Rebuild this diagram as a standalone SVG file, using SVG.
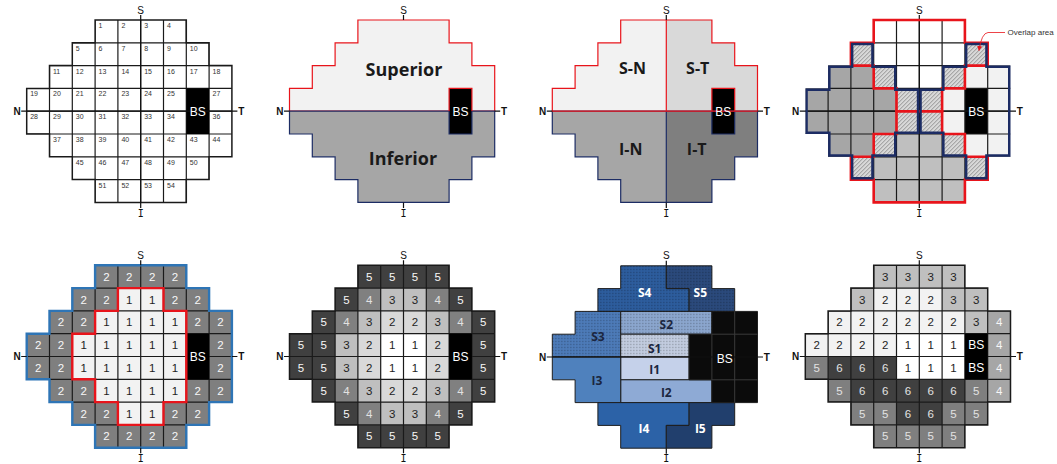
<svg xmlns="http://www.w3.org/2000/svg" width="1057" height="464" viewBox="0 0 1057 464">
<style>
.lbl{font-family:"Liberation Sans",Arial,sans-serif;font-size:10px;fill:#111}
.lb{font-weight:bold}
.lm{font-family:"DejaVu Sans Mono","Liberation Mono",monospace;font-size:10px;fill:#111}
.ax{stroke:#111;stroke-width:1.2;fill:none}
.gl{stroke:#1a1a1a;stroke-width:1.2;fill:none}
.ol{stroke:#1a1a1a;stroke-width:1.5;fill:none}
.n7{font-family:"Liberation Sans",Arial,sans-serif;font-size:7px;fill:#333}
.num{font-family:"Liberation Sans",Arial,sans-serif;font-size:11.5px;text-anchor:middle}
.bs{font-family:"Liberation Sans",Arial,sans-serif;font-size:12px;fill:#fff;text-anchor:middle}
.big{font-family:"Open Sans","Noto Sans",sans-serif;font-weight:bold;fill:#1a1a1a;text-anchor:middle}
.w{fill:#f7f7f7}.g{fill:#e2e2e2}.d{fill:#1e1e1e}
.red{stroke:#e8141b;fill:none}
.navy{stroke:#1c2c64;fill:none}
.reg{stroke:#1e1e1e;stroke-width:1}
</style>
<defs>
<path id="shape" d="M68.4,0H159.6V22.8H182.4V45.6H205.2V136.8H182.4V159.6H159.6V182.4H68.4V159.6H45.6V136.8H22.8V114H0V68.4H22.8V45.6H45.6V22.8H68.4Z"/>
<clipPath id="clipShape"><path d="M68.4,0H159.6V22.8H182.4V45.6H205.2V136.8H182.4V159.6H159.6V182.4H68.4V159.6H45.6V136.8H22.8V114H0V68.4H22.8V45.6H45.6V22.8H68.4Z"/></clipPath>
<path id="grid" d="M22.8,0V182.4M45.6,0V182.4M68.4,0V182.4M91.2,0V182.4M114,0V182.4M136.8,0V182.4M159.6,0V182.4M182.4,0V182.4M0,22.8H205.2M0,45.6H205.2M0,68.4H205.2M0,91.2H205.2M0,114H205.2M0,136.8H205.2M0,159.6H205.2"/>
<clipPath id="clipNasal"><path d="M45.6,22.8H68.4V45.6H91.2V68.4H114V114H91.2V136.8H68.4V159.6H45.6V136.8H22.8V114H0V68.4H22.8V45.6H45.6Z"/></clipPath>
<clipPath id="clipTemp"><path d="M159.6,22.8H182.4V45.6H205.2V136.8H182.4V159.6H159.6V136.8H136.8V114H114V68.4H136.8V45.6H159.6Z"/></clipPath>
<pattern id="hatch" width="4" height="4" patternUnits="userSpaceOnUse"><rect width="4" height="4" fill="#d8d8d8"/><path d="M-1,1L1,-1M0,4L4,0M3,5L5,3" stroke="#8a8a8a" stroke-width="0.9"/></pattern>
<pattern id="dots" width="3" height="3" patternUnits="userSpaceOnUse"><rect width="1.2" height="1.2" fill="#000" fill-opacity="0.3"/></pattern>
<marker id="arr" viewBox="0 0 10 10" refX="9" refY="5" markerWidth="5" markerHeight="5" markerUnits="userSpaceOnUse" orient="auto"><path d="M0,0L10,5L0,10Z" fill="#e8141b"/></marker>
</defs>

<!-- Panel 1: numbered grid -->
<g id="p1" transform="translate(26.7,20)">
<use href="#shape" fill="#fff"/>
<use href="#grid" class="gl" clip-path="url(#clipShape)"/>
<use href="#shape" class="ol"/>
<rect x="159.6" y="68.4" width="22.8" height="45.6" fill="#000"/>
<path class="ax" d="M114,-5V188M-5.5,91.2H210.7"/>
<text class="bs" x="171" y="95.5">BS</text>
<g class="n7">
<text x="71.9" y="8">1</text><text x="94.7" y="8">2</text><text x="117.5" y="8">3</text><text x="140.3" y="8">4</text>
<text x="49.1" y="30.8">5</text><text x="71.9" y="30.8">6</text><text x="94.7" y="30.8">7</text><text x="117.5" y="30.8">8</text><text x="140.3" y="30.8">9</text><text x="163.1" y="30.8">10</text>
<text x="26.3" y="53.6">11</text><text x="49.1" y="53.6">12</text><text x="71.9" y="53.6">13</text><text x="94.7" y="53.6">14</text><text x="117.5" y="53.6">15</text><text x="140.3" y="53.6">16</text><text x="163.1" y="53.6">17</text><text x="185.9" y="53.6">18</text>
<text x="3.5" y="76.4">19</text><text x="26.3" y="76.4">20</text><text x="49.1" y="76.4">21</text><text x="71.9" y="76.4">22</text><text x="94.7" y="76.4">23</text><text x="117.5" y="76.4">24</text><text x="140.3" y="76.4">25</text><text x="185.9" y="76.4">27</text>
<text x="3.5" y="99.2">28</text><text x="26.3" y="99.2">29</text><text x="49.1" y="99.2">30</text><text x="71.9" y="99.2">31</text><text x="94.7" y="99.2">32</text><text x="117.5" y="99.2">33</text><text x="140.3" y="99.2">34</text><text x="185.9" y="99.2">36</text>
<text x="26.3" y="122">37</text><text x="49.1" y="122">38</text><text x="71.9" y="122">39</text><text x="94.7" y="122">40</text><text x="117.5" y="122">41</text><text x="140.3" y="122">42</text><text x="163.1" y="122">43</text><text x="185.9" y="122">44</text>
<text x="49.1" y="144.8">45</text><text x="71.9" y="144.8">46</text><text x="94.7" y="144.8">47</text><text x="117.5" y="144.8">48</text><text x="140.3" y="144.8">49</text><text x="163.1" y="144.8">50</text>
<text x="71.9" y="167.6">51</text><text x="94.7" y="167.6">52</text><text x="117.5" y="167.6">53</text><text x="140.3" y="167.6">54</text>
</g>
<text class="lbl" x="114" y="-6.5" text-anchor="middle">S</text>
<text class="lm" x="114" y="196.5" text-anchor="middle">I</text>
<text class="lbl lb" x="-6" y="95" text-anchor="end">N</text>
<text class="lbl lb" x="211.5" y="95">T</text>
</g>

<!-- Panel 2: Superior / Inferior -->
<g id="p2" transform="translate(289.5,20)">
<path d="M68.4,0H159.6V22.8H182.4V45.6H205.2V91.2H0V68.4H22.8V45.6H45.6V22.8H68.4Z" fill="#f2f2f2" class="red" stroke-width="1.2" style="fill:#f2f2f2"/>
<path d="M0,91.2H205.2V136.8H182.4V159.6H159.6V182.4H68.4V159.6H45.6V136.8H22.8V114H0Z" class="navy" stroke-width="1.2" style="fill:#a6a6a6"/>
<rect x="159.6" y="68.4" width="22.8" height="45.6" fill="#000"/>
<path class="red" stroke-width="1.2" d="M159.6,91.2V68.4H182.4V91.2"/>
<path class="navy" stroke-width="1.2" d="M159.6,91.2V114H182.4V91.2"/>
<path class="ax" d="M114,-5V0M114,182.4V188M-5.5,91.2H0M205.2,91.2H210.7"/>
<text class="bs" x="171" y="95.5">BS</text>
<text class="big" x="114.5" y="56" font-size="18">Superior</text>
<text class="big" x="113.5" y="145" font-size="18">Inferior</text>
<text class="lbl" x="114" y="-6.5" text-anchor="middle">S</text>
<text class="lm" x="114" y="196.5" text-anchor="middle">I</text>
<text class="lbl lb" x="-6" y="95" text-anchor="end">N</text>
<text class="lbl lb" x="211.5" y="95">T</text>
</g>

<!-- Panel 3: quadrants -->
<g id="p3" transform="translate(552.3,20)">
<path d="M68.4,0H114V91.2H0V68.4H22.8V45.6H45.6V22.8H68.4Z" fill="#f2f2f2"/>
<path d="M114,0H159.6V22.8H182.4V45.6H205.2V91.2H114Z" fill="#d9d9d9"/>
<path d="M0,91.2H114V182.4H68.4V159.6H45.6V136.8H22.8V114H0Z" fill="#a6a6a6"/>
<path d="M114,91.2H205.2V136.8H182.4V159.6H159.6V182.4H114Z" fill="#7f7f7f"/>
<rect x="159.6" y="68.4" width="22.8" height="45.6" fill="#000"/>
<path class="navy" stroke-width="1.2" d="M0,91.2H205.2V136.8H182.4V159.6H159.6V182.4H68.4V159.6H45.6V136.8H22.8V114H0ZM114,91.2V182.4M159.6,91.2V114H182.4V91.2"/>
<path class="red" stroke-width="1.2" d="M68.4,0H159.6V22.8H182.4V45.6H205.2V91.2H0V68.4H22.8V45.6H45.6V22.8H68.4ZM114,0V91.2M159.6,91.2V68.4H182.4V91.2"/>
<path class="ax" d="M114,-5V0M114,182.4V188M-5.5,91.2H0M205.2,91.2H210.7"/>
<text class="bs" x="171" y="95.5">BS</text>
<text class="big" x="80.2" y="53.5" font-size="16">S-N</text>
<text class="big" x="145.4" y="53.5" font-size="16">S-T</text>
<text class="big" x="78.5" y="135" font-size="16">I-N</text>
<text class="big" x="144.4" y="135" font-size="16">I-T</text>
<text class="lbl" x="114" y="-6.5" text-anchor="middle">S</text>
<text class="lm" x="114" y="196.5" text-anchor="middle">I</text>
<text class="lbl lb" x="-6" y="95" text-anchor="end">N</text>
<text class="lbl lb" x="211.5" y="95">T</text>
</g>

<!-- Panel 4: overlap -->
<g id="p4" transform="translate(805.3,20)">
<use href="#shape" fill="#fff"/>
<path d="M22.8,45.6H68.4V68.4H91.2V114H68.4V136.8H22.8V114H0V68.4H22.8Z" fill="#a6a6a6"/>
<path d="M159.6,45.6H205.2V136.8H159.6V114H136.8V68.4H159.6Z" fill="#f2f2f2"/>
<path d="M91.2,114H136.8V136.8H159.6V182.4H68.4V136.8H91.2Z" fill="#bfbfbf"/>
<path fill="url(#hatch)" d="M45.6,22.8h22.8v22.8h-22.8zM159.6,22.8h22.8v22.8h-22.8zM68.4,45.6h22.8v22.8h-22.8zM136.8,45.6h22.8v22.8h-22.8zM91.2,68.4h45.6v45.6h-45.6zM68.4,114h22.8v22.8h-22.8zM136.8,114h22.8v22.8h-22.8zM45.6,136.8h22.8v22.8h-22.8zM159.6,136.8h22.8v22.8h-22.8z"/>
<rect x="159.6" y="68.4" width="22.8" height="45.6" fill="#000"/>
<use href="#grid" class="gl" clip-path="url(#clipShape)"/>
<path class="ax" d="M114,-5V188M-5.5,91.2H210.7"/>
<path class="red" stroke-width="2.6" d="M68.4,0H159.6V22.8H182.4V45.6H159.6V68.4H136.8V91.2H91.2V68.4H68.4V45.6H45.6V22.8H68.4Z"/>
<path class="red" stroke-width="2.6" d="M91.2,91.2H136.8V114H159.6V136.8H182.4V159.6H159.6V182.4H68.4V159.6H45.6V136.8H68.4V114H91.2Z"/>
<path class="navy" stroke-width="5" clip-path="url(#clipNasal)" d="M45.6,22.8H68.4V45.6H91.2V68.4H114V114H91.2V136.8H68.4V159.6H45.6V136.8H22.8V114H0V68.4H22.8V45.6H45.6Z"/>
<path class="navy" stroke-width="5" clip-path="url(#clipTemp)" d="M159.6,22.8H182.4V45.6H205.2V136.8H182.4V159.6H159.6V136.8H136.8V114H114V68.4H136.8V45.6H159.6Z"/>
<text class="bs" x="171" y="95.5">BS</text>
<text class="lbl" x="114" y="-6.5" text-anchor="middle">S</text>
<text class="lm" x="114" y="196.5" text-anchor="middle">I</text>
<text class="lbl lb" x="-6" y="95" text-anchor="end">N</text>
<text class="lbl lb" x="211.5" y="95">T</text>
</g>
<g id="connectors">
<path d="M1005,32.5H988Q981.5,33 979,50.5" fill="none" stroke="#e8141b" stroke-width="0.8" marker-end="url(#arr)"/>
</g>
<text id="overlap-label" x="1007.5" y="35.3" font-family="Liberation Sans, Arial, sans-serif" font-size="8" fill="#333">Overlap area</text>

<!-- Panel 5 -->
<g id="p5" transform="translate(26.7,265.3)">
<use href="#shape" fill="#7f7f7f"/>
<path d="M91.2,22.8H136.8V45.6H159.6V136.8H136.8V159.6H91.2V136.8H68.4V114H45.6V68.4H68.4V45.6H91.2Z" fill="#f2f2f2"/>
<use href="#grid" class="gl" clip-path="url(#clipShape)"/>
<rect x="159.6" y="68.4" width="22.8" height="45.6" fill="#000"/>
<use href="#shape" fill="none" stroke="#2e75b6" stroke-width="2.4"/>
<path class="red" stroke-width="2.4" d="M91.2,22.8H136.8V45.6H159.6V136.8H136.8V159.6H91.2V136.8H68.4V114H45.6V68.4H68.4V45.6H91.2Z"/>
<path class="ax" d="M114,-5V0M114,182.4V188M-5.5,91.2H0M205.2,91.2H210.7"/>
<text class="bs" x="171" y="95.5">BS</text>
<g class="num">
<g class="w">
<text x="79.8" y="15.6">2</text><text x="102.6" y="15.6">2</text><text x="125.4" y="15.6">2</text><text x="148.2" y="15.6">2</text>
<text x="57" y="38.4">2</text><text x="79.8" y="38.4">2</text><text x="148.2" y="38.4">2</text><text x="171" y="38.4">2</text>
<text x="34.2" y="61.2">2</text><text x="57" y="61.2">2</text><text x="171" y="61.2">2</text><text x="193.8" y="61.2">2</text>
<text x="11.4" y="84">2</text><text x="34.2" y="84">2</text><text x="193.8" y="84">2</text>
<text x="11.4" y="106.8">2</text><text x="34.2" y="106.8">2</text><text x="193.8" y="106.8">2</text>
<text x="34.2" y="129.6">2</text><text x="57" y="129.6">2</text><text x="171" y="129.6">2</text><text x="193.8" y="129.6">2</text>
<text x="57" y="152.4">2</text><text x="79.8" y="152.4">2</text><text x="148.2" y="152.4">2</text><text x="171" y="152.4">2</text>
<text x="79.8" y="175.2">2</text><text x="102.6" y="175.2">2</text><text x="125.4" y="175.2">2</text><text x="148.2" y="175.2">2</text>
</g>
<g class="d">
<text x="102.6" y="38.4">1</text><text x="125.4" y="38.4">1</text>
<text x="79.8" y="61.2">1</text><text x="102.6" y="61.2">1</text><text x="125.4" y="61.2">1</text><text x="148.2" y="61.2">1</text>
<text x="57" y="84">1</text><text x="79.8" y="84">1</text><text x="102.6" y="84">1</text><text x="125.4" y="84">1</text><text x="148.2" y="84">1</text>
<text x="57" y="106.8">1</text><text x="79.8" y="106.8">1</text><text x="102.6" y="106.8">1</text><text x="125.4" y="106.8">1</text><text x="148.2" y="106.8">1</text>
<text x="79.8" y="129.6">1</text><text x="102.6" y="129.6">1</text><text x="125.4" y="129.6">1</text><text x="148.2" y="129.6">1</text>
<text x="102.6" y="152.4">1</text><text x="125.4" y="152.4">1</text>
</g>
</g>
<text class="lbl" x="114" y="-6.5" text-anchor="middle">S</text>
<text class="lm" x="114" y="196.5" text-anchor="middle">I</text>
<text class="lbl lb" x="-6" y="95" text-anchor="end">N</text>
<text class="lbl lb" x="211.5" y="95">T</text>
</g>

<!-- Panel 6 -->
<g id="p6" transform="translate(289.5,265.3)">
<use href="#shape" fill="#404040"/>
<path fill="#808080" d="M68.4,22.8h22.8v22.8h-22.8zM136.8,22.8h22.8v22.8h-22.8zM45.6,45.6h22.8v22.8h-22.8zM159.6,45.6h22.8v22.8h-22.8zM45.6,114h22.8v22.8h-22.8zM159.6,114h22.8v22.8h-22.8zM68.4,136.8h22.8v22.8h-22.8zM136.8,136.8h22.8v22.8h-22.8z"/>
<path fill="#bfbfbf" d="M91.2,22.8h45.6v22.8h-45.6zM68.4,45.6h22.8v22.8h-22.8zM136.8,45.6h22.8v22.8h-22.8zM45.6,68.4h22.8v45.6h-22.8zM68.4,114h22.8v22.8h-22.8zM136.8,114h22.8v22.8h-22.8zM91.2,136.8h45.6v22.8h-45.6z"/>
<path fill="#d9d9d9" d="M91.2,45.6h45.6v22.8h-45.6zM68.4,68.4h22.8v45.6h-22.8zM136.8,68.4h22.8v45.6h-22.8zM91.2,114h45.6v22.8h-45.6z"/>
<path fill="#ffffff" d="M91.2,68.4h45.6v45.6h-45.6z"/>
<use href="#grid" class="gl" clip-path="url(#clipShape)"/>
<rect x="159.6" y="68.4" width="22.8" height="45.6" fill="#000"/>
<use href="#shape" class="ol"/>
<path class="ax" d="M114,-5V0M114,182.4V188M-5.5,91.2H0M205.2,91.2H210.7"/>
<text class="bs" x="171" y="95.5">BS</text>
<g class="num">
<g class="w">
<text x="79.8" y="15.6">5</text><text x="102.6" y="15.6">5</text><text x="125.4" y="15.6">5</text><text x="148.2" y="15.6">5</text>
<text x="57" y="38.4">5</text><text x="171" y="38.4">5</text>
<text x="34.2" y="61.2">5</text><text x="193.8" y="61.2">5</text>
<text x="11.4" y="84">5</text><text x="34.2" y="84">5</text><text x="193.8" y="84">5</text>
<text x="11.4" y="106.8">5</text><text x="34.2" y="106.8">5</text><text x="193.8" y="106.8">5</text>
<text x="34.2" y="129.6">5</text><text x="193.8" y="129.6">5</text>
<text x="57" y="152.4">5</text><text x="171" y="152.4">5</text>
<text x="79.8" y="175.2">5</text><text x="102.6" y="175.2">5</text><text x="125.4" y="175.2">5</text><text x="148.2" y="175.2">5</text>
</g>
<g class="g">
<text x="79.8" y="38.4">4</text><text x="148.2" y="38.4">4</text>
<text x="57" y="61.2">4</text><text x="171" y="61.2">4</text>
<text x="57" y="129.6">4</text><text x="171" y="129.6">4</text>
<text x="79.8" y="152.4">4</text><text x="148.2" y="152.4">4</text>
</g>
<g class="d">
<text x="102.6" y="38.4">3</text><text x="125.4" y="38.4">3</text>
<text x="79.8" y="61.2">3</text><text x="102.6" y="61.2">2</text><text x="125.4" y="61.2">2</text><text x="148.2" y="61.2">3</text>
<text x="57" y="84">3</text><text x="79.8" y="84">2</text><text x="102.6" y="84">1</text><text x="125.4" y="84">1</text><text x="148.2" y="84">2</text>
<text x="57" y="106.8">3</text><text x="79.8" y="106.8">2</text><text x="102.6" y="106.8">1</text><text x="125.4" y="106.8">1</text><text x="148.2" y="106.8">2</text>
<text x="79.8" y="129.6">3</text><text x="102.6" y="129.6">2</text><text x="125.4" y="129.6">2</text><text x="148.2" y="129.6">3</text>
<text x="102.6" y="152.4">3</text><text x="125.4" y="152.4">3</text>
</g>
</g>
<text class="lbl" x="114" y="-6.5" text-anchor="middle">S</text>
<text class="lm" x="114" y="196.5" text-anchor="middle">I</text>
<text class="lbl lb" x="-6" y="95" text-anchor="end">N</text>
<text class="lbl lb" x="211.5" y="95">T</text>
</g>

<!-- Panel 7: regions -->
<g id="p7" transform="translate(552.3,265.8)">
<g class="reg">
<path id="S4" d="M68.4,0H114V22.8H136.8V45.6H45.6V22.8H68.4Z" fill="#2d5d9e"/>
<path id="S5" d="M114,0H159.6V22.8H182.4V45.6H136.8V22.8H114Z" fill="#2b4a7c"/>
<path id="S3" d="M22.8,45.6H68.4V91.2H0V68.4H22.8Z" fill="#4d7bb9"/>
<path id="S2" d="M68.4,45.6H159.6V68.4H68.4Z" fill="#8ca7cf"/>
<path id="S1" d="M68.4,68.4H136.8V91.2H68.4Z" fill="#c3cde0"/>
<path id="I1" d="M68.4,91.2H136.8V114H68.4Z" fill="#c5d1ea"/>
<path id="I2" d="M68.4,114H159.6V136.8H68.4Z" fill="#8eaad5"/>
<path id="I3" d="M0,91.2H68.4V136.8H22.8V114H0Z" fill="#4f81bd"/>
<path id="I4" d="M45.6,136.8H136.8V159.6H114V182.4H68.4V159.6H45.6Z" fill="#2c62a7"/>
<path id="I5" d="M136.8,136.8H182.4V159.6H159.6V182.4H114V159.6H136.8Z" fill="#213f6d"/>
<path id="BSR" d="M159.6,45.6H205.2V136.8H159.6V114H136.8V68.4H159.6Z" fill="#0b0b0b"/>
</g>
<path fill="url(#dots)" d="M68.4,0H114V22.8H136.8V45.6H45.6V22.8H68.4ZM114,0H159.6V22.8H182.4V45.6H136.8V22.8H114ZM22.8,45.6H68.4V91.2H0V68.4H22.8ZM68.4,45.6H159.6V68.4H68.4ZM68.4,68.4H136.8V91.2H68.4Z"/>
<path stroke="#3a3a3a" stroke-width="1" fill="none" d="M159.6,68.4V114M182.4,45.6V136.8M159.6,68.4H205.2M159.6,114H205.2"/>
<path class="ax" d="M114,-5V0M114,182.4V188M-5.5,91.2H210.7"/>
<g font-family="Open Sans, Noto Sans, sans-serif" font-weight="bold" font-size="12" text-anchor="middle">
<text x="92.4" y="31" fill="#fff">S4</text>
<text x="148" y="31" fill="#fff">S5</text>
<text x="45.7" y="75" fill="#1b2640">S3</text>
<text x="114" y="63.7" fill="#1b2640">S2</text>
<text x="102.4" y="87" fill="#1b2640">S1</text>
<text x="102.4" y="108.3" fill="#1b2640">I1</text>
<text x="44.7" y="119.3" fill="#1b2640">I3</text>
<text x="114" y="131" fill="#1b2640">I2</text>
<text x="91.7" y="167.7" fill="#fff">I4</text>
<text x="148" y="167.7" fill="#fff">I5</text>
</g>
<text class="bs" x="172.4" y="97.5" font-size="12.5">BS</text>
<text class="lbl" x="114" y="-6.5" text-anchor="middle">S</text>
<text class="lm" x="114" y="196.5" text-anchor="middle">I</text>
<text class="lbl lb" x="-6" y="95" text-anchor="end">N</text>
<text class="lbl lb" x="211.5" y="95">T</text>
</g>

<!-- Panel 8 -->
<g id="p8" transform="translate(805.3,265.3)">
<use href="#shape" fill="#7f7f7f"/>
<path fill="#bfbfbf" d="M68.4,0h91.2v22.8h-91.2zM45.6,22.8h22.8v22.8h-22.8zM136.8,22.8h45.6v22.8h-45.6zM159.6,45.6h22.8v22.8h-22.8z"/>
<path fill="#f2f2f2" d="M68.4,22.8h68.4v22.8h-68.4zM22.8,45.6h136.8v22.8h-136.8zM0,68.4h91.2v22.8h-91.2z"/>
<path fill="#ffffff" d="M91.2,68.4h68.4v45.6h-68.4z"/>
<path fill="#a6a6a6" d="M182.4,45.6h22.8v91.2h-22.8z"/>
<path fill="#404040" d="M22.8,91.2h68.4v22.8h-68.4zM45.6,114h114v22.8h-114zM91.2,136.8h45.6v22.8h-45.6z"/>
<use href="#grid" class="gl" clip-path="url(#clipShape)"/>
<rect x="159.6" y="68.4" width="22.8" height="45.6" fill="#000"/>
<use href="#shape" class="ol"/>
<path class="ax" d="M114,-5V0M114,182.4V188M-5.5,91.2H0M205.2,91.2H210.7"/>
<text class="bs" x="171" y="84" font-size="11.5">BS</text>
<text class="bs" x="171" y="106.8" font-size="11.5">BS</text>
<g class="num" font-size="11">
<g class="d">
<text x="79.8" y="15.6">3</text><text x="102.6" y="15.6">3</text><text x="125.4" y="15.6">3</text><text x="148.2" y="15.6">3</text>
<text x="57" y="38.4">3</text><text x="79.8" y="38.4">2</text><text x="102.6" y="38.4">2</text><text x="125.4" y="38.4">2</text><text x="148.2" y="38.4">3</text><text x="171" y="38.4">3</text>
<text x="34.2" y="61.2">2</text><text x="57" y="61.2">2</text><text x="79.8" y="61.2">2</text><text x="102.6" y="61.2">2</text><text x="125.4" y="61.2">2</text><text x="148.2" y="61.2">2</text><text x="171" y="61.2">3</text>
<text x="11.4" y="84">2</text><text x="34.2" y="84">2</text><text x="57" y="84">2</text><text x="79.8" y="84">2</text><text x="102.6" y="84">1</text><text x="125.4" y="84">1</text><text x="148.2" y="84">1</text>
<text x="102.6" y="106.8">1</text><text x="125.4" y="106.8">1</text><text x="148.2" y="106.8">1</text>
</g>
<g class="w">
<text x="193.8" y="61.2">4</text><text x="193.8" y="84">4</text><text x="193.8" y="106.8">4</text><text x="193.8" y="129.6">4</text>
</g>
<g class="g">
<text x="11.4" y="106.8">5</text><text x="34.2" y="106.8">6</text><text x="57" y="106.8">6</text><text x="79.8" y="106.8">6</text>
<text x="34.2" y="129.6">5</text><text x="57" y="129.6">6</text><text x="79.8" y="129.6">6</text><text x="102.6" y="129.6">6</text><text x="125.4" y="129.6">6</text><text x="148.2" y="129.6">6</text><text x="171" y="129.6">5</text>
<text x="57" y="152.4">5</text><text x="79.8" y="152.4">5</text><text x="102.6" y="152.4">6</text><text x="125.4" y="152.4">6</text><text x="148.2" y="152.4">5</text><text x="171" y="152.4">5</text>
<text x="79.8" y="175.2">5</text><text x="102.6" y="175.2">5</text><text x="125.4" y="175.2">5</text><text x="148.2" y="175.2">5</text>
</g>
</g>
<text class="lbl" x="114" y="-6.5" text-anchor="middle">S</text>
<text class="lm" x="114" y="196.5" text-anchor="middle">I</text>
<text class="lbl lb" x="-6" y="95" text-anchor="end">N</text>
<text class="lbl lb" x="211.5" y="95">T</text>
</g>
</svg>
